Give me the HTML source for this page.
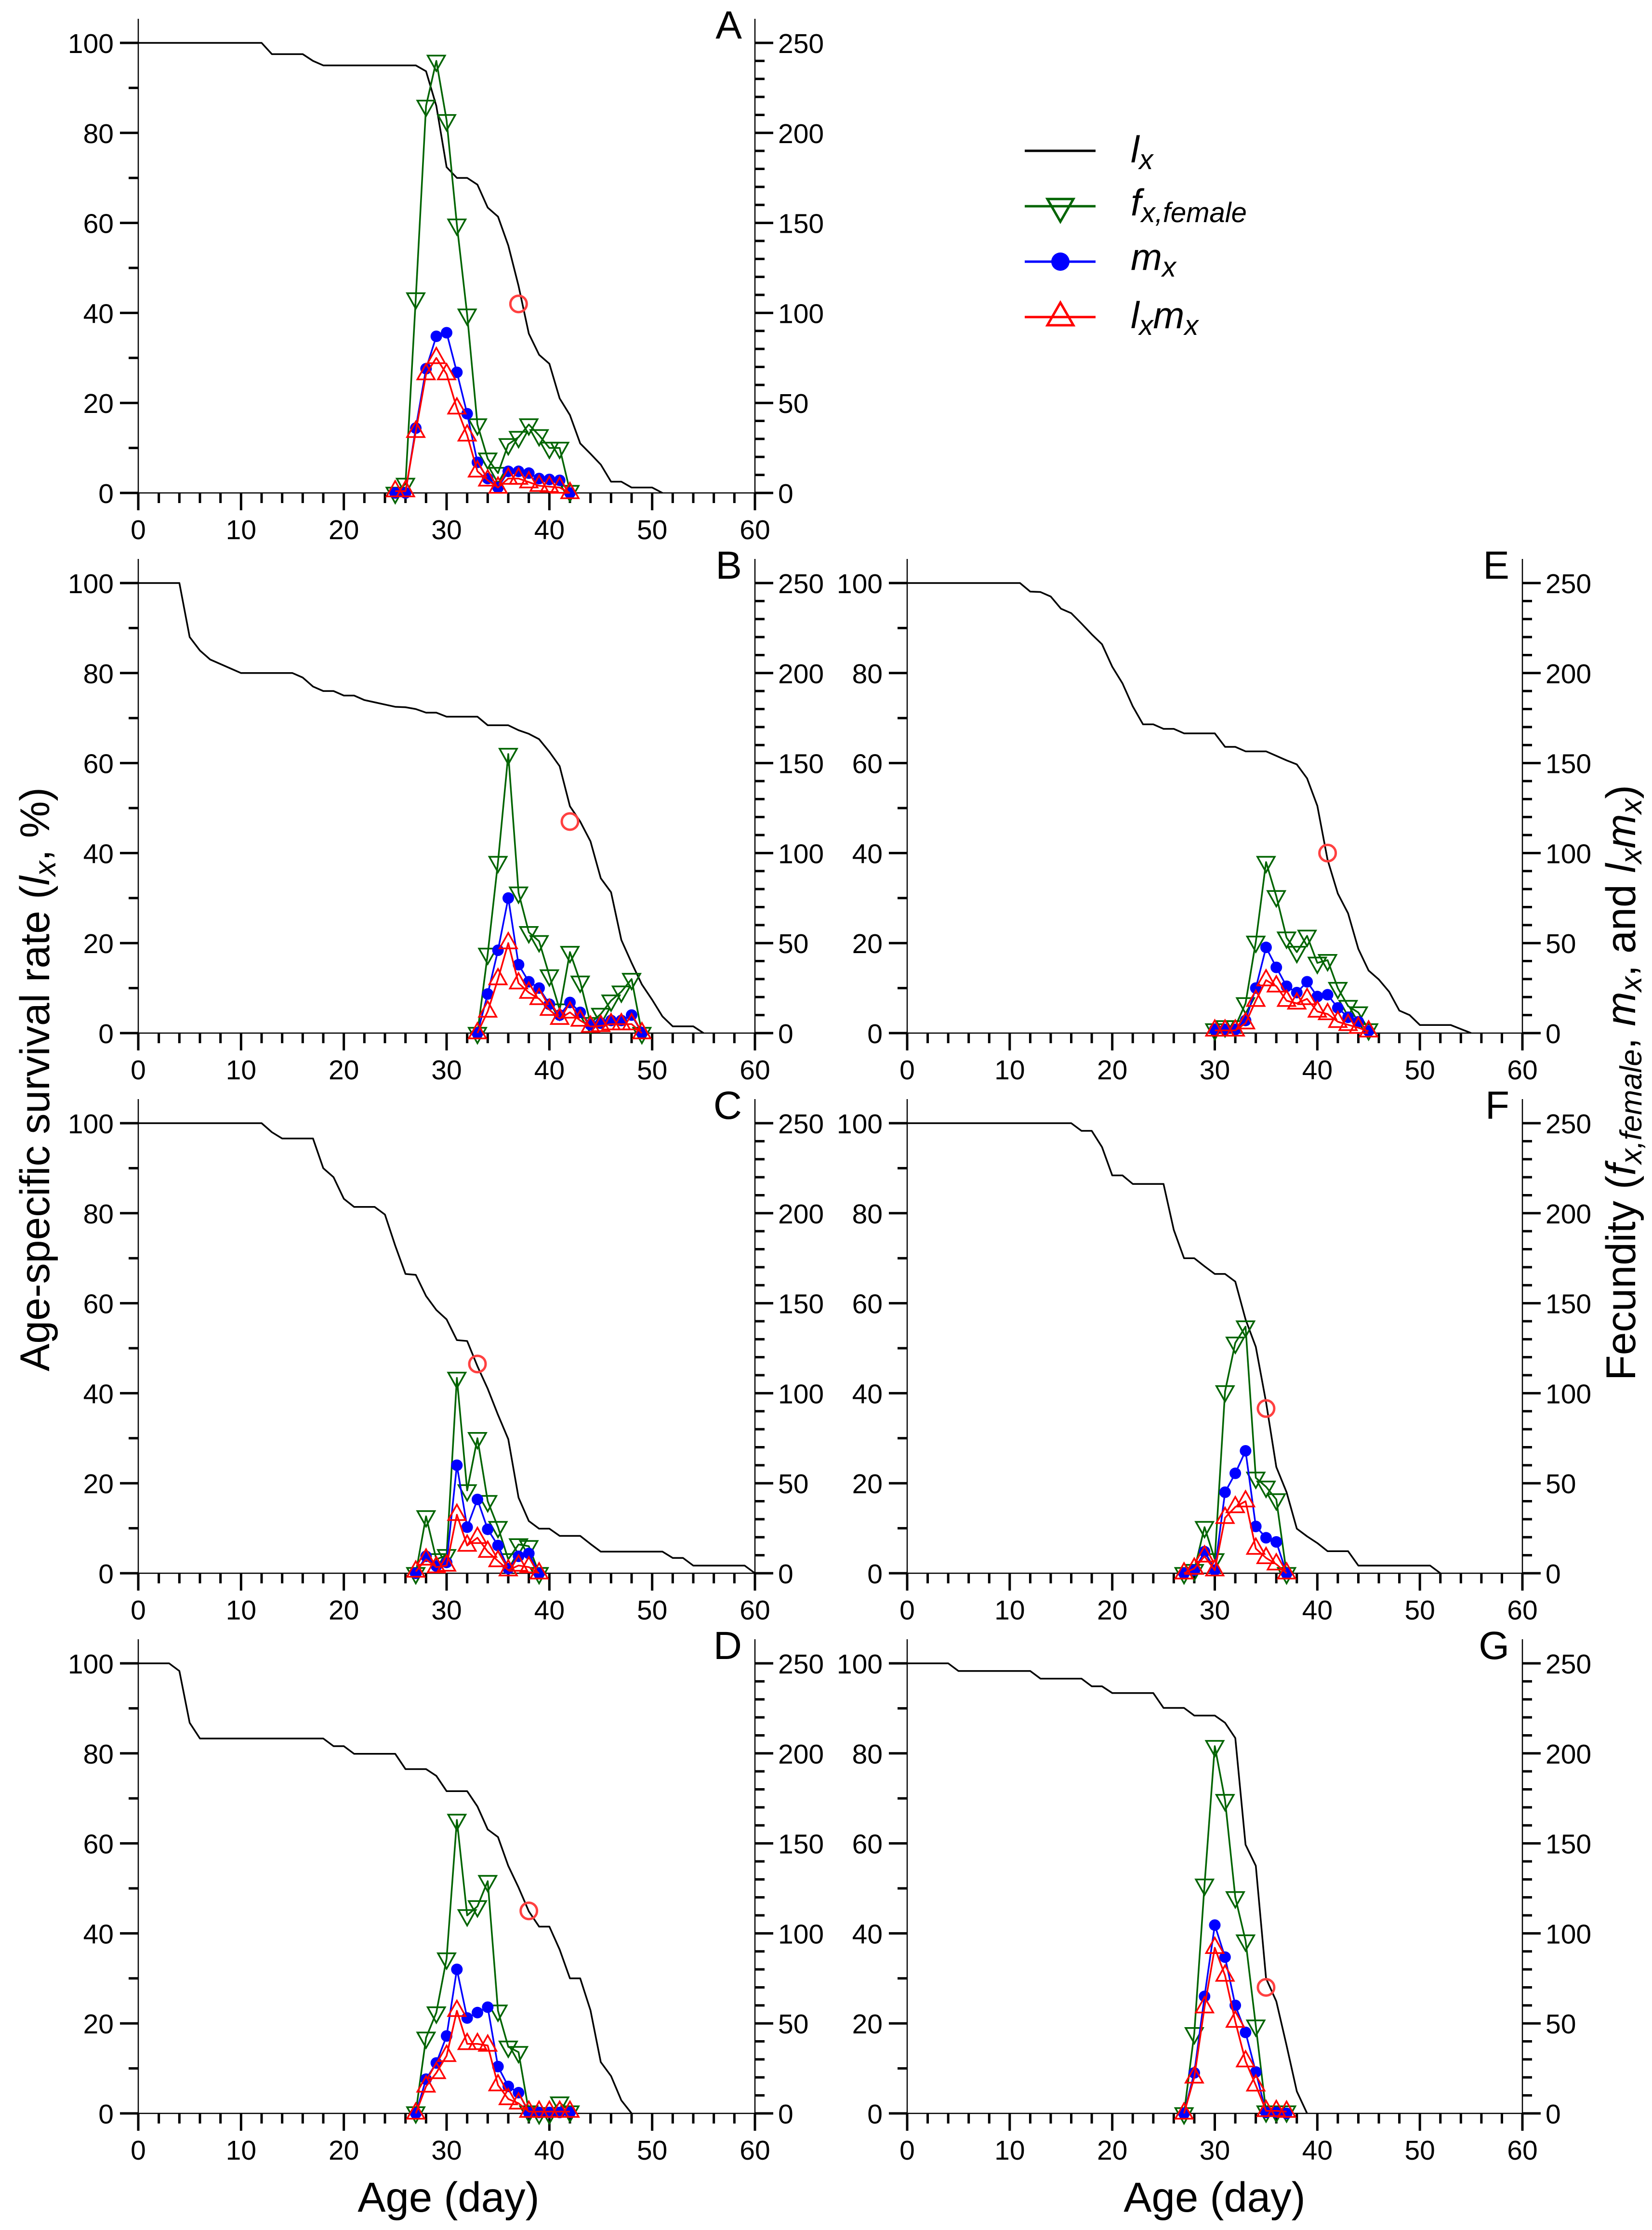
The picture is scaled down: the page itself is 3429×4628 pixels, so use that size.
<!DOCTYPE html>
<html><head><meta charset="utf-8">
<style>
html,body{margin:0;padding:0;background:#fff;}
svg{display:block;font-family:"Liberation Sans",Arial,sans-serif;}
</style></head>
<body>
<svg id="chart" width="3429" height="4628" viewBox="0 0 3429 4628" xmlns="http://www.w3.org/2000/svg">
<rect width="3429" height="4628" fill="#fff"/>
<text transform="translate(102,2240) rotate(-90)" text-anchor="middle" font-size="86">Age-specific survival rate (<tspan font-style="italic">l</tspan><tspan font-style="italic" font-size="63" dy="13">x</tspan><tspan dy="-13">, %)</tspan></text>
<text transform="translate(3394,2247) rotate(-90)" text-anchor="middle" font-size="86">Fecundity (<tspan font-style="italic">f</tspan><tspan font-style="italic" font-size="63" dy="13">x,female</tspan><tspan dy="-13">, </tspan><tspan font-style="italic">m</tspan><tspan font-style="italic" font-size="63" dy="13">x</tspan><tspan dy="-13">, and </tspan><tspan font-style="italic">l</tspan><tspan font-style="italic" font-size="63" dy="13">x</tspan><tspan font-style="italic" dy="-13">m</tspan><tspan font-style="italic" font-size="63" dy="13">x</tspan><tspan dy="-13">)</tspan></text>
<text x="931" y="4590" text-anchor="middle" font-size="87">Age (day)</text>
<text x="2521" y="4590" text-anchor="middle" font-size="87">Age (day)</text>
<g>
  <line x1="2127" y1="313" x2="2274" y2="313" stroke="#000" stroke-width="5"/>
  <text x="2347" y="337" font-size="78" font-style="italic">l<tspan font-size="58" dy="14">x</tspan></text>
  <line x1="2127" y1="428" x2="2274" y2="428" stroke="#006400" stroke-width="5"/>
  <polygon points="2174,413 2228,413 2201,460" fill="none" stroke="#006400" stroke-width="5"/>
  <text x="2347" y="447" font-size="78" font-style="italic">f<tspan font-size="58" dy="14">x,female</tspan></text>
  <line x1="2127" y1="543" x2="2274" y2="543" stroke="#0000ff" stroke-width="5"/>
  <circle cx="2201" cy="543" r="19" fill="#0000ff"/>
  <text x="2347" y="560" font-size="78" font-style="italic">m<tspan font-size="58" dy="14">x</tspan></text>
  <line x1="2127" y1="658" x2="2274" y2="658" stroke="#ff0000" stroke-width="5"/>
  <polygon points="2174,675 2228,675 2201,628" fill="none" stroke="#ff0000" stroke-width="5"/>
  <text x="2347" y="681" font-size="78" font-style="italic">l<tspan font-size="58" dy="14">x</tspan><tspan dy="-14">m</tspan><tspan font-size="58" dy="14">x</tspan></text>
</g>
</svg>
<script>
// ---- data (lx from day 0; series start at given first day) ----
const lxA=[100,100,100,100,100,100,100,100,100,100,100,100,100,97.5,97.5,97.5,97.5,96,95,95,95,95,95,95,95,95,95,95,93.7,86,72.4,70,70,68.5,63.4,61.4,55,46,35.4,30.7,28.7,21,17.3,11,8.7,6.3,2.5,2.5,1.2,1.2,1.2,0];
const lxB=[100,100,100,100,100,88,85,83,82,81,80,80,80,80,80,80,79,77,76,76,75,75,74,73.5,73,72.5,72.4,72,71.2,71.2,70.3,70.3,70.3,70.3,68.4,68.4,68.4,67.3,66.5,65.3,62.5,59.3,50.4,47,42.6,34.4,31.3,20.7,15.6,10.8,7.4,3.7,1.5,1.5,1.5,0];
const lxC=[100,100,100,100,100,100,100,100,100,100,100,100,100,98,96.6,96.6,96.6,96.6,90,88,83.2,81.4,81.4,81.4,79.7,72.8,66.5,66.3,61.6,58.5,56.4,51.8,51.6,46,41,35.2,29.8,16.8,11.6,9.9,9.9,8.3,8.3,8.3,6.5,4.8,4.8,4.8,4.8,4.8,4.8,4.8,3.4,3.4,1.7,1.7,1.7,1.7,1.7,1.7,0];
const lxD=[100,100,100,100,98.3,86.8,83.3,83.3,83.3,83.3,83.3,83.3,83.3,83.3,83.3,83.3,83.3,83.3,83.3,81.6,81.6,79.9,79.9,79.9,79.9,79.9,76.5,76.5,76.5,75,71.6,71.6,71.6,68.2,63.1,61.4,55,50.2,44.9,41.5,41.5,36.4,30,30,22.9,11.4,8.3,2.9,0];
const lxE=[100,100,100,100,100,100,100,100,100,100,100,100,98.1,98,97,94.3,93.3,91,88.6,86.4,81.4,77.7,72.6,68.6,68.6,67.6,67.6,66.6,66.6,66.6,66.6,63.6,63.6,62.6,62.6,62.6,61.6,60.6,59.7,56.6,50.5,38.5,31,26.6,18.7,13.9,11.9,9.2,5,4,1.8,1.8,1.8,1.8,0.9,0];
const lxF=[100,100,100,100,100,100,100,100,100,100,100,100,100,100,100,100,100,98.3,98.3,94.7,88.4,88.4,86.5,86.5,86.5,86.5,76.3,70,70,68.2,66.5,66.5,64.8,56.4,50.3,38,23.6,18,9.9,8.2,6.7,4.9,4.9,4.9,1.7,1.7,1.7,1.7,1.7,1.7,1.7,1.7,0];
const lxG=[100,100,100,100,100,98.3,98.3,98.3,98.3,98.3,98.3,98.3,98.3,96.6,96.6,96.6,96.6,96.6,94.9,94.9,93.4,93.4,93.4,93.4,93.4,90.1,90.1,90.1,88.4,88.4,88.4,86.8,83.4,59.7,55,30,24.9,15.1,4.9,0];

const startA=25, fxA=[0,5,108,215,240,207,149,99,38,19,11,27,31,38,32,25,25,1];
const mxA=[0,0,36,69,87,89,67,44,17,8,3,12,12,11,8,7.5,7,0];
const lmA=[1,1,34,66,75,66,47,32,12,7,3,8,8,6,4,3.5,3,0];
const startB=33, fxB=[0,44,95,155,78,56,51,32,13,45,28.5,5.5,10.6,18,23,30,0];
const mxB=[0,21.7,46,75,38,28.5,25,16,10,17,11.5,4.6,5.5,7,7,10,0.3];
const lmB=[0,12,30,50,27.7,22.5,19,13,8,11.5,7,3.6,4,5,5,5,0];
const startC=27, fxC=[0,31.6,7.7,10,108.5,46,75,40,25.6,7.7,16,15,0];
const mxC=[0,9.4,4,6,60,25.6,41,24.4,15.4,2.6,9.4,11,0];
const lmC=[1,7.7,3.4,4.3,32.5,15.4,19.7,12,6.8,1.7,4.3,3.4,0];
const startD=27, fxD=[0.5,42,56,86,163,110,115,129,57,37,34,1,0,0,6,1];
const mxD=[0,19,28,43,80,53,56,59,26,15,11.5,0.5,0.5,0.5,0.5,0.5];
const lmD=[0,15,22.5,32,57,38.6,38.6,37.7,15.7,8,5.6,1,1,1,1,1];
const startE=30, fxE=[2,3.7,3.7,16.5,50.7,95,76,53,45,54,39,40.5,25,15,11.4,2];
const mxE=[2,2,2,7,25,47.6,36.5,26,22.5,28.5,20.3,21.3,14,8.8,6.3,1.2];
const lmE=[1.5,1.5,1.5,5.5,18,29.4,26,18,16.5,19,12,10.6,6.3,4.6,3,1];
const startF=27, fxF=[0,1.7,25.6,7.7,101,128,137,53,48,41,0];
const mxF=[0,1.7,12,1.7,45,55.5,68,26,19.7,17.4,0];
const lmF=[0,2.6,9.4,1.7,30.8,36.8,40,13.7,8.5,5,0];
const startG=27, fxG=[0,44.5,127,204,174,120,96,48.7,1,1,1];
const mxG=[0,22.5,65,104.6,86.8,60,45,23,0.5,0.5,0];
const lmG=[0,20,59,92,76.6,51,29,15.6,1.4,1.4,1];
// red open-circle marker (day, lx)
const ptDay=[37,42,33,38,41,35,35];
const ptLx=[42,47,46.5,45,40,36.6,28];
const panelLetters=['A','B','C','D','E','F','G'];
const xTicks=[0,10,20,30,40,50,60];
const yLeftTicks=[0,20,40,60,80,100];
const yRightTicks=[0,50,100,150,200,250];

const NS='http://www.w3.org/2000/svg';
const svg=document.getElementById('chart');
function mk(tag,attrs,parent){const e=document.createElementNS(NS,tag);for(const k in attrs)e.setAttribute(k,attrs[k]);(parent||svg).appendChild(e);return e;}

const panels=[
 {c:0,r:0,lx:lxA,s:startA,fx:fxA,mx:mxA,lm:lmA},
 {c:0,r:1,lx:lxB,s:startB,fx:fxB,mx:mxB,lm:lmB},
 {c:0,r:2,lx:lxC,s:startC,fx:fxC,mx:mxC,lm:lmC},
 {c:0,r:3,lx:lxD,s:startD,fx:fxD,mx:mxD,lm:lmD},
 {c:1,r:1,lx:lxE,s:startE,fx:fxE,mx:mxE,lm:lmE},
 {c:1,r:2,lx:lxF,s:startF,fx:fxF,mx:mxF,lm:lmF},
 {c:1,r:3,lx:lxG,s:startG,fx:fxG,mx:mxG,lm:lmG}
];
const colX0=[287,1883], colX1=[1567,3160];
const rowY100=[89,1210,2331,3452], H=934;

panels.forEach((p,i)=>{
  const x0=colX0[p.c], x1=colX1[p.c], yt=rowY100[p.r], yb=yt+H;
  const X=d=>x0+(x1-x0)*d/60;
  const YL=v=>yb-H*v/100;
  const YR=v=>yb-H*v/250;
  const g=mk('g',{});
  
  
  const ax=mk('g',{stroke:'#000'},g);
  
  
  mk('line',{x1:x0,y1:yt-50,x2:x0,y2:yb,'stroke-width':2.5},ax);
  mk('line',{x1:x1,y1:yt-50,x2:x1,y2:yb,'stroke-width':2.5},ax);
  mk('line',{x1:x0,y1:yb,x2:x1,y2:yb,'stroke-width':2.5},ax);
  for(let d=0;d<=60;d+=2){const maj=d%10===0;mk('line',{x1:X(d),y1:yb,x2:X(d),y2:yb+(maj?36:21),'stroke-width':5},ax);}
  for(let v=0;v<=100;v+=10){const maj=v%20===0;mk('line',{x1:x0,y1:YL(v),x2:x0-(maj?38:20),y2:YL(v),'stroke-width':5},ax);}
  for(let v=0;v<=250;v+=10){const maj=v%50===0;mk('line',{x1:x1,y1:YR(v),x2:x1+(maj?38:20),y2:YR(v),'stroke-width':5},ax);}
  xTicks.forEach(t=>{const e=mk('text',{x:X(t),y:yb+96,'text-anchor':'middle','font-size':57},g);e.textContent=t;});
  yLeftTicks.forEach(t=>{const e=mk('text',{x:x0-51,y:YL(t)+21,'text-anchor':'end','font-size':57},g);e.textContent=t;});
  yRightTicks.forEach(t=>{const e=mk('text',{x:x1+48,y:YR(t)+21,'text-anchor':'start','font-size':57},g);e.textContent=t;});
  const lt=mk('text',{x:x1-27,y:yt-9,'text-anchor':'end','font-size':82},g);
  lt.textContent=panelLetters[i];
  
  
  const lxPts=p.lx.map((v,d)=>X(d)+','+YL(v)).join(' ');
  const lxl=mk('polyline',{points:lxPts,fill:'none',stroke:'#000','stroke-width':3.5,'stroke-linejoin':'round'},g);
  
  
  const ser=[{d:p.fx,c:'#006400',m:'down',n:'fx-female'},{d:p.mx,c:'#0000ff',m:'dot',n:'mx'},{d:p.lm,c:'#ff0000',m:'up',n:'lxmx'}];
  ser.forEach(s=>{
    const sg=mk('g',{},g);
    
    
    const pts=s.d.map((v,k)=>X(p.s+k)+','+YR(v)).join(' ');
    mk('polyline',{points:pts,fill:'none',stroke:s.c,'stroke-width':3.5,'stroke-linejoin':'round'},sg);
    s.d.forEach((v,k)=>{
      const cx=X(p.s+k), cy=YR(v);let e;
      if(s.m==='dot') e=mk('circle',{cx:cx,cy:cy,r:12,fill:s.c},sg);
      else if(s.m==='down') e=mk('polygon',{points:`${cx-18},${cy-11} ${cx+18},${cy-11} ${cx},${cy+21}`,fill:'none',stroke:s.c,'stroke-width':3.5},sg);
      else e=mk('polygon',{points:`${cx-18},${cy+11} ${cx+18},${cy+11} ${cx},${cy-21}`,fill:'none',stroke:s.c,'stroke-width':3.5},sg);
      
      
    });
  });
  const rc=mk('circle',{cx:X(ptDay[i]),cy:YL(ptLx[i]),r:17,fill:'none',stroke:'#ff4040','stroke-width':5},g);
  
  
});
</script>
</body></html>
